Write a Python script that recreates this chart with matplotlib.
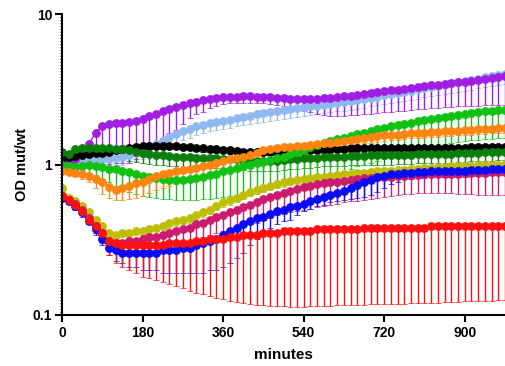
import numpy as np
import matplotlib
matplotlib.use("Agg")
import matplotlib.pyplot as plt
from matplotlib.ticker import FixedLocator, NullFormatter

plt.rcParams['font.family'] = ['Liberation Sans', 'DejaVu Sans']

minutes = list(range(0, 991, 15))

purple = [1.03, 1.02, 1.08, 1.18, 1.36, 1.63, 1.80, 1.86, 1.88, 1.90, 1.91, 1.96, 2.02, 2.09, 2.17, 2.26,
          2.35, 2.42, 2.49, 2.56, 2.62, 2.68, 2.72, 2.76, 2.79, 2.81, 2.83, 2.84, 2.84, 2.83, 2.82, 2.80,
          2.78, 2.76, 2.74, 2.73, 2.72, 2.72, 2.73, 2.75, 2.78, 2.81, 2.84, 2.87, 2.91, 2.95, 2.99, 3.03,
          3.07, 3.11, 3.15, 3.19, 3.23, 3.27, 3.31, 3.35, 3.39, 3.43, 3.47, 3.51, 3.55, 3.60, 3.65, 3.70,
          3.75, 3.80, 3.85]
purple_low = [1.00, 0.98, 1.00, 1.00, 1.00, 1.00, 1.00, 1.01, 1.02, 1.02, 1.03, 1.08, 1.13, 1.20, 1.35, 1.50,
              1.62, 1.70, 1.85, 2.05, 2.15, 2.22, 2.38, 2.45, 2.52, 2.55, 2.55, 2.55, 2.55, 2.55, 2.55, 2.54,
              2.50, 2.45, 2.38, 2.32, 2.26, 2.22, 2.18, 2.14, 2.11, 2.09, 2.10, 2.12, 2.14, 2.16, 2.18, 2.20,
              2.22, 2.24, 2.26, 2.28, 2.30, 2.32, 2.34, 2.36, 2.38, 2.40, 2.42, 2.43, 2.44, 2.45, 2.46, 2.47,
              2.48, 2.49, 2.50]

lightblue = [1.00, 1.02, 1.04, 1.05, 1.06, 1.07, 1.08, 1.09, 1.10, 1.12, 1.15, 1.19, 1.24, 1.30, 1.37, 1.44,
             1.52, 1.59, 1.66, 1.73, 1.79, 1.84, 1.88, 1.92, 1.96, 1.99, 2.03, 2.07, 2.11, 2.15, 2.19, 2.22,
             2.26, 2.30, 2.33, 2.37, 2.40, 2.43, 2.46, 2.50, 2.53, 2.57, 2.60, 2.64, 2.68, 2.73, 2.78, 2.83,
             2.88, 2.93, 2.98, 3.04, 3.10, 3.16, 3.22, 3.28, 3.34, 3.40, 3.46, 3.52, 3.58, 3.65, 3.72, 3.79,
             3.86, 3.93, 4.00]
lightblue_low = [0.90, 0.92, 0.93, 0.94, 0.95, 0.96, 0.97, 0.98, 0.99, 1.00, 1.02, 1.05, 1.09, 1.14, 1.20, 1.26,
                 1.33, 1.39, 1.45, 1.51, 1.57, 1.62, 1.66, 1.70, 1.73, 1.76, 1.79, 1.83, 1.86, 1.90, 1.93, 1.96,
                 1.99, 2.02, 2.05, 2.08, 2.11, 2.14, 2.16, 2.19, 2.22, 2.25, 2.28, 2.31, 2.35, 2.39, 2.43, 2.47,
                 2.51, 2.55, 2.59, 2.64, 2.69, 2.74, 2.79, 2.84, 2.89, 2.94, 2.99, 3.04, 3.09, 3.15, 3.21, 3.27,
                 3.33, 3.39, 3.45]

black = [1.10, 1.12, 1.14, 1.16, 1.18, 1.19, 1.20, 1.22, 1.24, 1.26, 1.28, 1.30, 1.32, 1.33, 1.33, 1.33,
         1.33, 1.32, 1.31, 1.30, 1.29, 1.28, 1.27, 1.26, 1.25, 1.24, 1.23, 1.22, 1.22, 1.21, 1.21, 1.21,
         1.22, 1.22, 1.23, 1.23, 1.24, 1.25, 1.25, 1.26, 1.26, 1.27, 1.27, 1.28, 1.28, 1.28, 1.28, 1.28,
         1.28, 1.28, 1.28, 1.28, 1.28, 1.28, 1.29, 1.29, 1.29, 1.29, 1.29, 1.29, 1.29, 1.30, 1.30, 1.30,
         1.30, 1.30, 1.30]
black_low = [1.06, 1.08, 1.09, 1.11, 1.13, 1.14, 1.15, 1.17, 1.19, 1.20, 1.22, 1.24, 1.26, 1.27, 1.27, 1.27,
             1.27, 1.26, 1.25, 1.24, 1.23, 1.22, 1.21, 1.20, 1.19, 1.18, 1.17, 1.16, 1.16, 1.15, 1.15, 1.15,
             1.16, 1.16, 1.17, 1.17, 1.18, 1.19, 1.19, 1.20, 1.20, 1.21, 1.21, 1.22, 1.22, 1.22, 1.22, 1.22,
             1.22, 1.22, 1.22, 1.22, 1.22, 1.22, 1.23, 1.23, 1.23, 1.23, 1.23, 1.23, 1.23, 1.24, 1.24, 1.24,
             1.24, 1.24, 1.24]

darkgreen = [1.21, 1.17, 1.26, 1.28, 1.29, 1.29, 1.29, 1.28, 1.27, 1.26, 1.24, 1.22, 1.20, 1.18, 1.16, 1.15,
             1.14, 1.13, 1.12, 1.12, 1.11, 1.11, 1.10, 1.10, 1.09, 1.08, 1.08, 1.07, 1.06, 1.06, 1.05, 1.05,
             1.06, 1.07, 1.08, 1.09, 1.10, 1.10, 1.11, 1.12, 1.12, 1.13, 1.13, 1.14, 1.14, 1.14, 1.15, 1.15,
             1.15, 1.15, 1.16, 1.16, 1.16, 1.17, 1.17, 1.17, 1.18, 1.18, 1.18, 1.19, 1.19, 1.20, 1.20, 1.21,
             1.21, 1.22, 1.22]
darkgreen_low = [1.12, 1.06, 1.09, 1.09, 1.09, 1.09, 1.09, 1.08, 1.08, 1.07, 1.06, 1.04, 1.03, 1.01, 1.00, 0.99,
                 0.98, 0.97, 0.96, 0.96, 0.95, 0.95, 0.95, 0.95, 0.94, 0.93, 0.93, 0.92, 0.91, 0.91, 0.90, 0.90,
                 0.91, 0.92, 0.93, 0.94, 0.95, 0.95, 0.96, 0.97, 0.97, 0.98, 0.98, 0.99, 0.99, 0.99, 1.00, 1.00,
                 1.00, 1.00, 1.01, 1.01, 1.01, 1.02, 1.02, 1.02, 1.03, 1.03, 1.03, 1.04, 1.04, 1.05, 1.05, 1.06,
                 1.06, 1.07, 1.07]

lime = [1.00, 0.98, 0.96, 0.97, 0.99, 0.98, 0.96, 0.94, 0.93, 0.91, 0.89, 0.87, 0.84, 0.82, 0.81, 0.80,
        0.79, 0.79, 0.79, 0.80, 0.81, 0.83, 0.85, 0.87, 0.90, 0.92, 0.95, 0.97, 1.00, 1.02, 1.04, 1.07,
        1.10, 1.13, 1.17, 1.21, 1.25, 1.30, 1.34, 1.38, 1.43, 1.47, 1.51, 1.55, 1.59, 1.63, 1.67, 1.71,
        1.75, 1.79, 1.83, 1.87, 1.90, 1.94, 1.98, 2.01, 2.04, 2.07, 2.10, 2.13, 2.16, 2.19, 2.22, 2.25,
        2.27, 2.29, 2.31]
lime_low = [0.97, 0.95, 0.92, 0.90, 0.88, 0.85, 0.80, 0.76, 0.72, 0.69, 0.66, 0.64, 0.62, 0.61, 0.60, 0.59,
            0.59, 0.58, 0.58, 0.58, 0.58, 0.59, 0.59, 0.60, 0.61, 0.62, 0.63, 0.64, 0.65, 0.66, 0.67, 0.69,
            0.71, 0.73, 0.75, 0.77, 0.79, 0.81, 0.83, 0.85, 0.87, 0.89, 0.91, 0.94, 0.97, 1.00, 1.03, 1.06,
            1.09, 1.12, 1.15, 1.18, 1.21, 1.24, 1.27, 1.30, 1.33, 1.36, 1.39, 1.42, 1.44, 1.45, 1.46, 1.47,
            1.48, 1.49, 1.50]

orange = [0.90, 0.89, 0.88, 0.86, 0.84, 0.80, 0.76, 0.71, 0.68, 0.70, 0.72, 0.75, 0.77, 0.80, 0.84, 0.86,
          0.88, 0.90, 0.92, 0.93, 0.95, 0.97, 1.00, 1.03, 1.06, 1.09, 1.11, 1.13, 1.15, 1.19, 1.24, 1.27,
          1.29, 1.30, 1.31, 1.32, 1.33, 1.34, 1.36, 1.38, 1.40, 1.42, 1.44, 1.46, 1.48, 1.50, 1.52, 1.54,
          1.56, 1.57, 1.58, 1.60, 1.61, 1.62, 1.63, 1.64, 1.65, 1.66, 1.67, 1.68, 1.69, 1.70, 1.71, 1.72,
          1.73, 1.74, 1.75]
orange_low = [0.88, 0.86, 0.84, 0.80, 0.76, 0.70, 0.64, 0.60, 0.58, 0.58, 0.59, 0.60, 0.62, 0.65, 0.68, 0.70,
              0.72, 0.74, 0.76, 0.78, 0.80, 0.82, 0.84, 0.86, 0.88, 0.90, 0.92, 0.95, 0.98, 1.02, 1.08, 1.12,
              1.15, 1.17, 1.19, 1.20, 1.21, 1.22, 1.24, 1.26, 1.28, 1.30, 1.32, 1.34, 1.36, 1.38, 1.40, 1.42,
              1.44, 1.45, 1.46, 1.48, 1.49, 1.50, 1.51, 1.52, 1.53, 1.54, 1.55, 1.56, 1.57, 1.58, 1.59, 1.60,
              1.61, 1.62, 1.63]

olive = [0.70, 0.60, 0.57, 0.53, 0.48, 0.43, 0.39, 0.35, 0.34, 0.35, 0.35, 0.36, 0.36, 0.37, 0.38, 0.39,
         0.41, 0.42, 0.43, 0.44, 0.46, 0.48, 0.50, 0.53, 0.56, 0.58, 0.60, 0.63, 0.66, 0.68, 0.70, 0.72,
         0.74, 0.76, 0.78, 0.79, 0.80, 0.81, 0.82, 0.83, 0.84, 0.85, 0.86, 0.87, 0.88, 0.88, 0.89, 0.90,
         0.90, 0.91, 0.92, 0.92, 0.93, 0.94, 0.95, 0.95, 0.96, 0.96, 0.97, 0.97, 0.98, 0.98, 0.99, 0.99,
         1.00, 1.00, 1.01]
olive_low = [0.67, 0.57, 0.54, 0.50, 0.45, 0.40, 0.37, 0.33, 0.32, 0.33, 0.33, 0.34, 0.34, 0.35, 0.36, 0.37,
             0.38, 0.39, 0.40, 0.41, 0.43, 0.45, 0.47, 0.50, 0.52, 0.54, 0.56, 0.59, 0.62, 0.64, 0.66, 0.68,
             0.70, 0.71, 0.73, 0.74, 0.75, 0.76, 0.77, 0.78, 0.79, 0.80, 0.81, 0.82, 0.83, 0.83, 0.84, 0.85,
             0.85, 0.86, 0.87, 0.87, 0.88, 0.89, 0.89, 0.89, 0.90, 0.90, 0.91, 0.91, 0.92, 0.92, 0.93, 0.93,
             0.94, 0.94, 0.95]

crimson = [0.62, 0.58, 0.55, 0.50, 0.44, 0.39, 0.35, 0.31, 0.30, 0.30, 0.31, 0.31, 0.32, 0.33, 0.33, 0.34,
           0.35, 0.36, 0.37, 0.38, 0.40, 0.41, 0.43, 0.45, 0.46, 0.48, 0.50, 0.52, 0.54, 0.56, 0.59, 0.61,
           0.63, 0.65, 0.67, 0.69, 0.71, 0.72, 0.74, 0.75, 0.76, 0.77, 0.78, 0.79, 0.80, 0.81, 0.81, 0.82,
           0.83, 0.83, 0.84, 0.84, 0.85, 0.85, 0.86, 0.86, 0.86, 0.87, 0.87, 0.87, 0.88, 0.88, 0.88, 0.88,
           0.89, 0.89, 0.89]
crimson_low = [0.60, 0.55, 0.51, 0.46, 0.40, 0.35, 0.31, 0.28, 0.27, 0.27, 0.27, 0.27, 0.28, 0.28, 0.28, 0.29,
               0.29, 0.30, 0.30, 0.31, 0.32, 0.33, 0.34, 0.35, 0.36, 0.37, 0.38, 0.39, 0.40, 0.41, 0.43, 0.44,
               0.46, 0.47, 0.48, 0.49, 0.50, 0.51, 0.52, 0.53, 0.54, 0.55, 0.56, 0.57, 0.57, 0.58, 0.59, 0.60,
               0.61, 0.62, 0.63, 0.64, 0.64, 0.65, 0.65, 0.65, 0.65, 0.65, 0.65, 0.64, 0.64, 0.64, 0.63, 0.63,
               0.63, 0.63, 0.63]

blue = [0.60, 0.57, 0.53, 0.48, 0.42, 0.37, 0.32, 0.28, 0.27, 0.26, 0.26, 0.26, 0.26, 0.26, 0.26, 0.27,
        0.27, 0.27, 0.28, 0.28, 0.29, 0.30, 0.31, 0.32, 0.34, 0.36, 0.38, 0.40, 0.42, 0.44, 0.45, 0.47,
        0.49, 0.50, 0.52, 0.53, 0.55, 0.57, 0.59, 0.61, 0.63, 0.65, 0.67, 0.70, 0.73, 0.76, 0.79, 0.82,
        0.84, 0.86, 0.87, 0.88, 0.88, 0.89, 0.89, 0.90, 0.90, 0.90, 0.91, 0.91, 0.91, 0.92, 0.92, 0.92,
        0.93, 0.93, 0.93]
blue_low = [0.58, 0.55, 0.50, 0.45, 0.40, 0.34, 0.29, 0.25, 0.23, 0.22, 0.21, 0.21, 0.20, 0.20, 0.20, 0.19,
            0.19, 0.19, 0.19, 0.19, 0.19, 0.19, 0.20, 0.20, 0.21, 0.22, 0.24, 0.26, 0.29, 0.32, 0.35, 0.38,
            0.40, 0.42, 0.43, 0.46, 0.49, 0.51, 0.53, 0.54, 0.56, 0.57, 0.58, 0.59, 0.60, 0.61, 0.63, 0.66,
            0.70, 0.74, 0.77, 0.80, 0.80, 0.81, 0.81, 0.82, 0.82, 0.82, 0.83, 0.83, 0.83, 0.84, 0.84, 0.84,
            0.85, 0.85, 0.85]

red = [0.62, 0.58, 0.54, 0.49, 0.43, 0.39, 0.35, 0.31, 0.30, 0.29, 0.29, 0.29, 0.29, 0.29, 0.29, 0.29,
       0.30, 0.30, 0.30, 0.30, 0.31, 0.31, 0.32, 0.32, 0.32, 0.33, 0.33, 0.34, 0.34, 0.34, 0.35, 0.35,
       0.35, 0.36, 0.36, 0.36, 0.36, 0.36, 0.37, 0.37, 0.37, 0.37, 0.37, 0.37, 0.37, 0.38, 0.38, 0.38,
       0.38, 0.38, 0.38, 0.38, 0.38, 0.38, 0.38, 0.39, 0.39, 0.39, 0.39, 0.39, 0.39, 0.39, 0.39, 0.39,
       0.39, 0.39, 0.39]
red_low = [0.60, 0.56, 0.51, 0.46, 0.40, 0.35, 0.30, 0.25, 0.22, 0.21, 0.20, 0.19, 0.18, 0.175, 0.17, 0.165,
           0.16, 0.155, 0.15, 0.145, 0.14, 0.137, 0.133, 0.13, 0.127, 0.124, 0.122, 0.12, 0.118, 0.117, 0.116, 0.115,
           0.114, 0.114, 0.113, 0.113, 0.113, 0.114, 0.114, 0.115, 0.115, 0.116, 0.116, 0.117, 0.117, 0.117, 0.118, 0.118,
           0.118, 0.119, 0.119, 0.119, 0.120, 0.120, 0.120, 0.121, 0.121, 0.122, 0.122, 0.122, 0.123, 0.123, 0.124, 0.124,
           0.124, 0.125, 0.125]

series = [
    (lightblue, lightblue_low, '#8FB9EE'),
    (purple, purple_low, '#A21DE3'),
    (black, black_low, '#000000'),
    (darkgreen, darkgreen_low, '#0A800A'),
    (lime, lime_low, '#12C212'),
    (orange, orange_low, '#FF8512'),
    (olive, olive_low, '#BEBE0A'),
    (crimson, crimson_low, '#CC1B6E'),
    (blue, blue_low, '#0B0BF5'),
    (red, red_low, '#FF1010'),
]

fig = plt.figure(figsize=(5.05, 3.66), dpi=100)
ax = fig.add_axes([62 / 505, 51 / 366, 443 / 505, 301 / 366])

t = np.array(minutes)
for mean, low, col in series:
    m = np.array(mean)
    lo = np.array(low)
    ax.errorbar(t, m, yerr=[m - lo, np.zeros_like(m)], fmt='o-', color=col, ms=5.8, lw=1.0,
                elinewidth=1.0, capsize=2.4, capthick=1.0, mec=col, mew=0.5, clip_on=True)

ax.set_yscale('log')
ax.set_ylim(0.1, 10)
ax.set_xlim(0, 990)

ax.set_xticks([0, 180, 360, 540, 720, 900])
ax.set_yticks([0.1, 1, 10])
ax.set_yticklabels(['0.1', '1', '10'])
ax.yaxis.set_minor_locator(FixedLocator(10 ** np.arange(-1, 1.0001, 0.02)))
ax.yaxis.set_minor_formatter(NullFormatter())

for s in ['top', 'right']:
    ax.spines[s].set_visible(False)
for s in ['left', 'bottom']:
    ax.spines[s].set_linewidth(1.5)

ax.tick_params(axis='both', which='major', length=5, width=1.5, labelsize=10, pad=2)
ax.tick_params(axis='x', which='major', pad=3)
ax.tick_params(axis='y', which='minor', length=1.5, width=0.8)
for lab in ax.get_xticklabels() + ax.get_yticklabels():
    lab.set_fontweight('bold')

ax.set_xlabel('minutes', fontsize=11, fontweight='bold', labelpad=6)
ax.set_ylabel('OD mut/wt', fontsize=10.5, fontweight='bold', labelpad=3)

fig.savefig('out.png', dpi=100)
